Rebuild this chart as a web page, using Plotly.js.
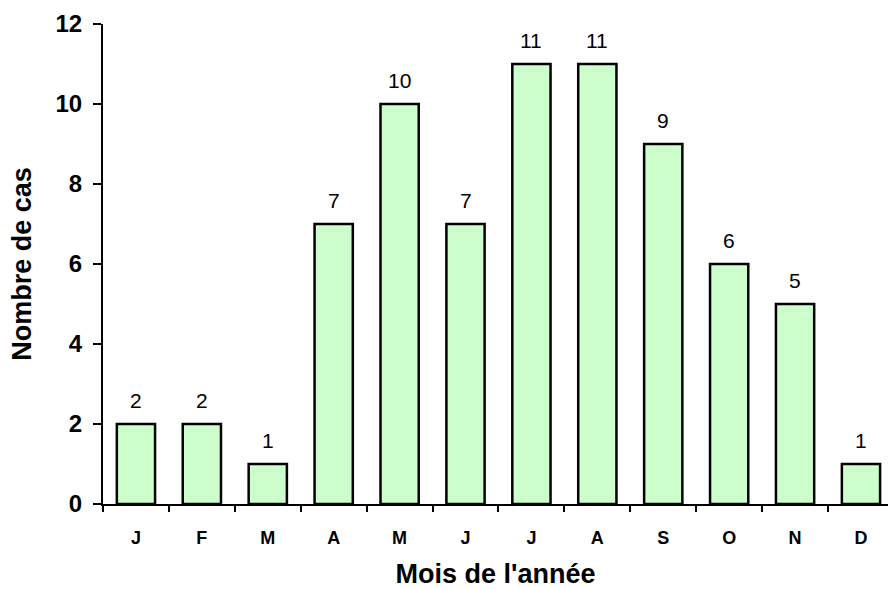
<!DOCTYPE html>
<html>
<head>
<meta charset="utf-8">
<script src="https://cdn.plot.ly/plotly-3.0.1.min.js"></script>
<style>html,body{margin:0;padding:0;background:#fff;}#chart{width:888px;height:589px;}</style>
</head>
<body>
<div id="chart"></div>
<script>
const months = ['Janvier','Février','Mars','Avril','Mai','Juin','Juillet','Août','Septembre','Octobre','Novembre','Décembre'];
const monthLabels = ['J','F','M','A','M','J','J','A','S','O','N','D'];
const cases = [2,2,1,7,10,7,11,11,9,6,5,1];
const yTicks = [0,2,4,6,8,10,12];

const FONT = 'Arial, Liberation Sans, sans-serif';

const trace = {
  type: 'bar',
  x: months,
  y: cases,
  marker: {color: '#CCFFCC', line: {color: '#000000', width: 2.5}},
  hoverinfo: 'x+y'
};

const annotations = months.map((m, i) => ({
  x: m, y: cases[i], xref: 'x', yref: 'y',
  text: String(cases[i]), showarrow: false,
  yanchor: 'bottom', yshift: 10,
  font: {family: FONT, size: 21, color: '#000'}
}));

const layout = {
  width: 888, height: 589,
  margin: {l: 103, r: 0, t: 24, b: 85},
  paper_bgcolor: '#fff', plot_bgcolor: '#fff',
  bargap: 0.42,
  showlegend: false,
  font: {family: FONT, color: '#000'},
  xaxis: {
    type: 'category',
    range: [-0.5, 11.41],
    tickvals: months, ticktext: monthLabels,
    tickson: 'boundaries',
    ticks: 'outside', ticklen: 6, tickwidth: 2, tickcolor: '#000',
    ticklabelstandoff: 16,
    showline: true, linecolor: '#000', linewidth: 2,
    showgrid: false, zeroline: false,
    tickfont: {family: FONT, size: 18, weight: 'bold', color: '#000'},
    title: {text: "Mois de l'année", standoff: 21,
      font: {family: FONT, size: 27, weight: 'bold', color: '#000'}}
  },
  yaxis: {
    range: [0, 12],
    tickvals: yTicks,
    ticks: 'outside', ticklen: 8, tickwidth: 2, tickcolor: '#000',
    ticklabelstandoff: 6,
    showline: true, linecolor: '#000', linewidth: 2,
    showgrid: false, zeroline: false,
    tickfont: {family: FONT, size: 24, weight: 'bold', color: '#000'},
    title: {text: 'Nombre de cas', standoff: 16,
      font: {family: FONT, size: 27, weight: 'bold', color: '#000'}}
  },
  annotations: annotations
};

Plotly.newPlot('chart', [trace], layout, {displayModeBar: false, staticPlot: true});
</script>
</body>
</html>
